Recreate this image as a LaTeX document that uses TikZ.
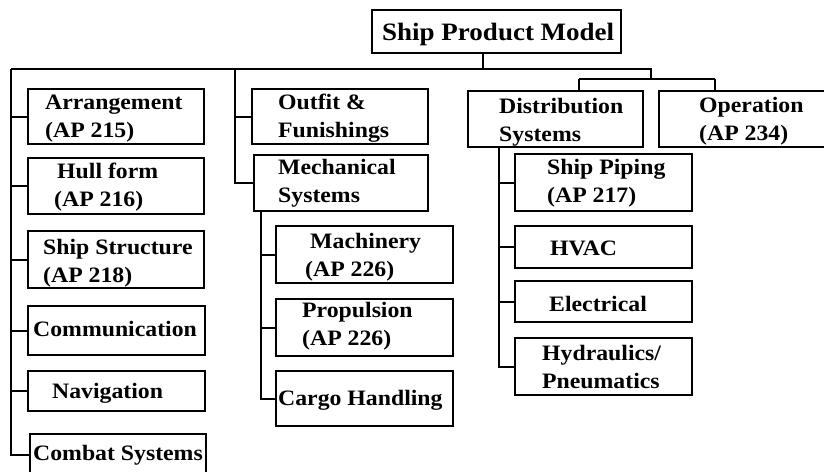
\documentclass[tikz,border=0pt]{standalone}
\usepackage{fontspec}
\setmainfont{Liberation Serif}[FakeStretch=1.08]
\begin{document}
\begin{tikzpicture}[x=1pt,y=-1pt,
  box/.style={draw=black, line width=2.2pt, anchor=north west, inner sep=0pt},
  txt/.style={anchor=base west, inner sep=0pt, align=left, font=\bfseries\fontsize{22}{27.5}\selectfont},
  conn/.style={draw=black, line width=2.2pt}]
\useasboundingbox (0,0) rectangle (824,471);
% boxes
\newcommand{\bx}[5]{\node[box, minimum width=#4-#2, minimum height=#5-#3] (#1) at (#2,#3) {};}
\bx{top}{371}{9}{620}{52}
\bx{arr}{27}{88}{203}{143}
\bx{hull}{27}{157}{203}{213}
\bx{struct}{27}{230}{203}{287}
\bx{comm}{27}{305}{204}{354}
\bx{nav}{27}{370}{204}{410}
\bx{comb}{29}{433}{205}{474}
\bx{outfit}{251}{88}{427}{143}
\bx{mech}{253}{154}{427}{210}
\bx{mach}{275}{225}{452}{282}
\bx{prop}{275}{298}{452}{355}
\bx{cargo}{275}{370}{452}{425}
\bx{dist}{467}{90}{642}{146}
\bx{oper}{658}{90}{827}{146}
\bx{pipe}{514}{153}{691}{210}
\bx{hvac}{514}{225}{691}{267}
\bx{elec}{514}{280}{691}{321}
\bx{hyd}{514}{337}{691}{394}
% texts (multi-line nodes: position is the baseline of the last line)
\node[txt, font=\bfseries\fontsize{25}{30}\selectfont] (topT) at (382,40) {Ship Product Model};
\node[txt] (arrT) at (45,137) {Arrangement\\(AP 215)};
\node[txt] (hullT) at (54,206) {\hspace*{3pt}Hull form\\(AP 216)};
\node[txt] (structT) at (43,282) {Ship Structure\\(AP 218)};
\node[txt] (commT) at (33,336) {Communication};
\node[txt] (navT) at (52,398) {Navigation};
\node[txt] (combT) at (33,460) {Combat Systems};
\node[txt] (outfitT) at (278,137) {Outfit \&\\Funishings};
\node[txt] (mechT) at (278,202) {Mechanical\\Systems};
\node[txt] (machT) at (305,276) {\hspace*{5pt}Machinery\\(AP 226)};
\node[txt] (propT) at (302,345) {Propulsion\\(AP 226)};
\node[txt] (cargoT) at (278,405) {Cargo Handling};
\node[txt] (distT) at (499,141) {Distribution\\Systems};
\node[txt] (operT) at (699,140) {Operation\\(AP 234)};
\node[txt] (pipeT) at (547,202) {Ship Piping\\(AP 217)};
\node[txt] (hvacT) at (550,255) {HVAC};
\node[txt] (elecT) at (549,311) {Electrical};
\node[txt] (hydT) at (542,388) {Hydraulics/\\Pneumatics};
% junction coordinates
\coordinate (j0) at (483,69);
\coordinate (busL) at (11,69);
\coordinate (busR) at (651,69);
\coordinate (opj) at (651,79);
\coordinate (dj) at (579,79);
\coordinate (oj) at (715,79);
\coordinate (c2) at (235,69);
\coordinate (m2) at (261,210);
\coordinate (d2) at (499,146);
% connectors
\draw[conn] (top.south -| j0) -- (j0);
\draw[conn] (busL) -- (busR) -- (opj);
\draw[conn] (dj) -- (oj);
\draw[conn] (dj) -- (dj |- dist.north);
\draw[conn] (oj) -- (oj |- oper.north);
\draw[conn] (busL) |- (comb.west);
\foreach \n in {arr,hull,struct,comm,nav} \draw[conn] (\n.west) -- (\n.west -| busL);
\draw[conn] (c2) |- (mech.west);
\draw[conn] (outfit.west) -- (outfit.west -| c2);
\draw[conn] (m2) |- (cargo.west);
\foreach \n in {mach,prop} \draw[conn] (\n.west) -- (\n.west -| m2);
\draw[conn] (d2) |- (hyd.west);
\foreach \n in {pipe,hvac,elec} \draw[conn] (\n.west) -- (\n.west -| d2);
\end{tikzpicture}
\end{document}
